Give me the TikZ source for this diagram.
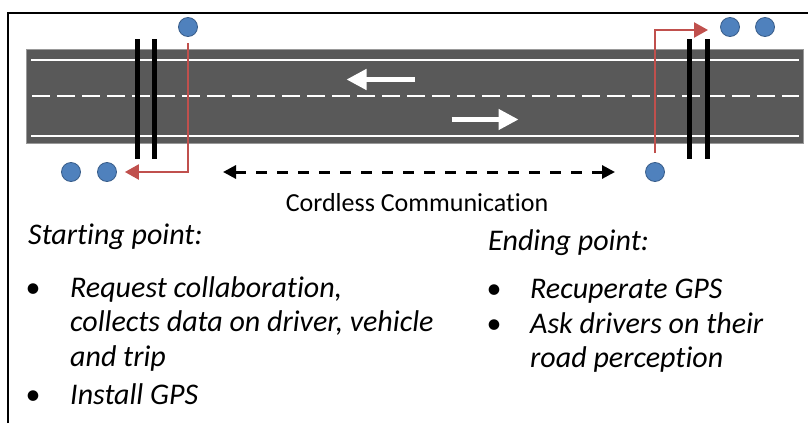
\documentclass[tikz,border=0pt]{standalone}
\usepackage{fontspec}
\setmainfont{Carlito}[Ligatures=NoCommon]
\usetikzlibrary{arrows.meta}
\definecolor{roadgray}{RGB}{89,89,89}
\definecolor{dotblue}{RGB}{79,129,189}
\definecolor{dotedge}{RGB}{56,93,138}
\definecolor{arrred}{RGB}{192,80,77}
\begin{document}
\begin{tikzpicture}[x=1pt,y=-1pt,
  dot/.style={circle, fill=dotblue, draw=dotedge, line width=0.8pt, minimum size=19pt, inner sep=0pt},
  redarrow/.style={draw=arrred, line width=2.4pt, -{Triangle[length=14pt,width=15pt,fill=arrred]}},
  bar/.style={line width=5pt, black},
  whitearrow/.style={white, line width=4.5pt, -{Triangle[length=20pt,width=20pt]}},
  lane/.style={white, line width=2pt},
  comm/.style={line width=3pt, dash pattern=on 11pt off 10pt, {Triangle[length=13pt,width=13pt]}-{Triangle[length=13pt,width=13pt]}},
  itxt/.style={font=\fontsize{30}{34}\selectfont\itshape, anchor=base west, inner sep=0pt},
  bul/.style={font=\fontsize{30}{34}\selectfont, anchor=base, inner sep=0pt}]
\useasboundingbox (0,0) rectangle (808,423);
\fill[white] (0,0) rectangle (808,423);
\draw[line width=2pt] (8,423) -- (8,13) -- (808,13);
% road
\filldraw[fill=roadgray, draw=gray!80, line width=0.8pt] (26,49.5) rectangle (803,143);
\draw[lane] (31,60) -- (799,60);
\draw[lane] (31,135.5) -- (799,135.5);
\draw[lane, dash pattern=on 18pt off 7pt] (32,95.7) -- (799,95.7);
% lane arrows
\draw[whitearrow] (415,79.5) -- (346.5,79.5);
\draw[whitearrow] (451.5,119.5) -- (518.5,119.5);
% bars
\draw[bar] (137,39) -- (137,159);
\draw[bar] (154.5,39) -- (154.5,159);
\draw[bar] (689.5,39) -- (689.5,159);
\draw[bar] (707,39) -- (707,159);
% dots
\node[dot] (lt) at (188,27) {};
\node[dot] (lb1) at (71,172) {};
\node[dot] (lb2) at (107,172) {};
\node[dot] (rt1) at (730,27) {};
\node[dot] (rt2) at (765,27) {};
\node[dot] (rb) at (655,172) {};
% red arrows
\draw[redarrow, shorten <=6.5pt, shorten >=8pt] (lt.south) |- (lb2.east);
\coordinate (rtip) at (708,30);
\draw[redarrow, shorten <=9pt] (rb.north) |- (rtip);
% communication
\coordinate (cl) at (223,172);
\coordinate (cr) at (615,172);
\draw[comm] (cl) -- (cr);
\node[font=\fontsize{26}{30}\selectfont, anchor=base, inner sep=0pt] (clabel) at (417,211.5) {Cordless Communication};
% texts
\node[itxt] (start) at (28,244) {Starting point:};
\node[bul] (b1) at (33,297) {•};
\node[itxt] (s1) at (70,297) {Request collaboration,};
\node[itxt] (s2) at (70,331.5) {collects data on driver, vehicle};
\node[itxt] (s3) at (70,366) {and trip};
\node[bul] (b2) at (33,404) {•};
\node[itxt] (s4) at (70,404) {Install GPS};
\node[itxt] (end) at (488,250) {Ending point:};
\node[bul] (b3) at (494,298) {•};
\node[itxt] (e1) at (530,298) {Recuperate GPS};
\node[bul] (b4) at (494,333) {•};
\node[itxt] (e2) at (530,333) {Ask drivers on their};
\node[itxt] (e3) at (530,367) {road perception};
\end{tikzpicture}
\end{document}
